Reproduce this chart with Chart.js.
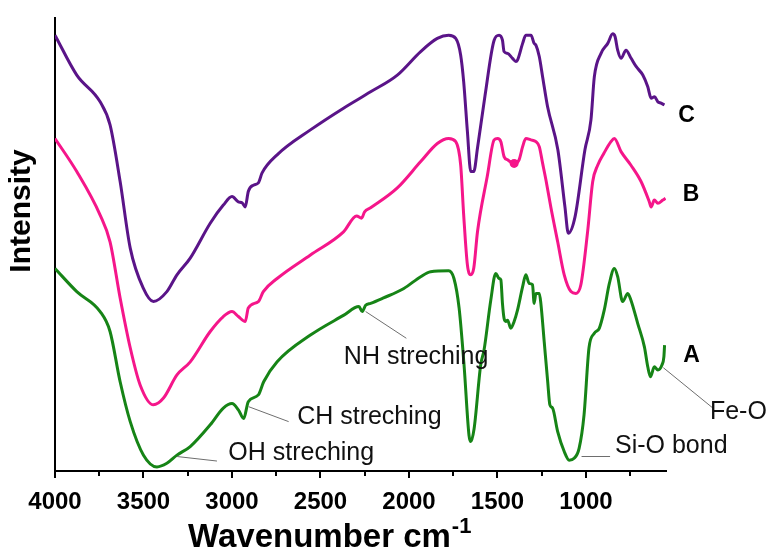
<!DOCTYPE html>
<html>
<head>
<meta charset="utf-8">
<script src="https://cdn.jsdelivr.net/npm/chart.js@4"></script>
<style>
  html, body { margin: 0; padding: 0; background: #fff; }
  #wrap { width: 768px; height: 550px; }
</style>
</head>
<body>
<div id="wrap"><canvas id="ftir" width="768" height="550"></canvas></div>
<script>
const FONT = "'Liberation Sans', Arial, Helvetica, sans-serif";

// x axis ticks (cm-1)
const majorTicks = [4000, 3500, 3000, 2500, 2000, 1500, 1000];
const minorTicks = [3750, 3250, 2750, 2250, 1750, 1250, 750];

// spectrum A (green)
const waveA = [4000, 3877, 3745, 3689, 3632, 3575, 3500, 3424, 3368, 3311,
  3236, 3123, 3049, 3000, 2964, 2934, 2908, 2851, 2821, 2745,
  2557, 2368, 2283, 2264, 2245, 2217, 2144, 2029, 1934, 1878,
  1776, 1746, 1717, 1689, 1661, 1651, 1632, 1595, 1576, 1538,
  1510, 1491, 1481, 1472, 1463, 1453, 1443, 1425, 1406, 1387,
  1358, 1340, 1321, 1302, 1293, 1283, 1264, 1255, 1236, 1217,
  1204, 1189, 1160, 1123, 1095, 1067, 1039, 1011, 983, 953,
  925, 897, 868, 840, 821, 793, 764, 746, 708, 670,
  651, 636, 614, 594, 571, 560, 556];
const intA = [44.7, 39.6, 35.2, 30.8, 19.7, 10.9, 3.5, 0.9, 1.7, 3.5,
  5.4, 10.2, 13.9, 14.9, 13.5, 11.6, 15.3, 16.8, 19.7, 24.1,
  30.0, 34.4, 36.3, 35.2, 36.6, 37.0, 38.2, 40.3, 42.9, 44.0,
  44.2, 42.5, 36.0, 23.4, 7.9, 6.5, 9.4, 23.4, 26.7, 37.7,
  43.6, 42.5, 42.2, 37.0, 33.7, 33.0, 33.3, 31.5, 33.0, 35.5,
  40.7, 43.3, 41.4, 41.1, 37.0, 39.2, 39.2, 37.0, 28.5, 20.0,
  14.6, 13.9, 8.7, 4.3, 2.4, 2.8, 5.0, 12.4, 27.2, 30.4,
  31.5, 35.5, 41.4, 44.7, 42.9, 37.4, 39.2, 37.7, 32.6, 27.4,
  23.0, 20.8, 23.0, 22.3, 23.4, 25.2, 27.8];

// spectrum B (pink)
const waveB = [4000, 3877, 3745, 3689, 3632, 3575, 3519, 3444, 3387, 3311,
  3236, 3123, 3049, 3000, 2964, 2925, 2908, 2851, 2823, 2745,
  2557, 2370, 2296, 2268, 2251, 2217, 2066, 1934, 1840, 1776,
  1736, 1708, 1691, 1670, 1651, 1634, 1613, 1558, 1519, 1500,
  1481, 1463, 1443, 1406, 1378, 1358, 1340, 1311, 1283, 1264,
  1245, 1226, 1198, 1160, 1123, 1085, 1057, 1029, 991, 962,
  934, 898, 859, 840, 802, 746, 689, 642, 632, 614,
  594, 566, 551];
const intB = [73.4, 66.1, 56.5, 50.6, 38.2, 27.2, 19.0, 14.6, 16.1, 21.2,
  24.1, 30.8, 34.1, 35.2, 34.1, 33.0, 36.0, 37.4, 39.6, 42.5,
  47.7, 52.8, 56.3, 55.8, 57.2, 58.1, 62.5, 68.3, 72.3, 73.4,
  72.7, 67.5, 56.5, 45.5, 43.3, 44.8, 52.8, 65.0, 73.1, 73.4,
  72.7, 69.4, 68.7, 67.9, 68.7, 71.6, 73.4, 73.1, 72.7, 71.6,
  67.9, 64.2, 58.1, 50.6, 43.3, 39.6, 39.2, 41.1, 52.8, 63.9,
  67.5, 70.2, 72.7, 73.4, 70.5, 67.5, 63.9, 59.4, 58.3, 59.8,
  59.1, 59.8, 60.2];
const dotWaveB = [1406];
const dotIntB = [67.9];

// spectrum C (purple)
const waveC = [4000, 3877, 3745, 3689, 3632, 3575, 3502, 3444, 3368, 3311,
  3236, 3123, 3049, 3000, 2964, 2943, 2925, 2908, 2879, 2851,
  2830, 2745, 2557, 2370, 2217, 2066, 1934, 1840, 1776, 1736,
  1708, 1691, 1670, 1651, 1634, 1613, 1570, 1519, 1491, 1472,
  1463, 1443, 1415, 1396, 1387, 1358, 1340, 1311, 1293, 1283,
  1264, 1245, 1217, 1159, 1119, 1100, 1062, 1006, 972, 953,
  915, 877, 849, 836, 821, 802, 774, 745, 717, 679,
  651, 632, 613, 594, 576, 557];
const intC = [96.2, 87.4, 81.5, 76.4, 63.9, 49.2, 40.4, 37.4, 39.6, 43.3,
  47.0, 54.7, 58.7, 60.6, 59.4, 59.2, 58.3, 61.7, 63.1, 63.6,
  65.8, 69.8, 75.3, 80.1, 83.7, 87.4, 92.6, 95.5, 96.2, 95.5,
  91.8, 85.9, 74.9, 66.1, 66.1, 71.3, 83.0, 95.1, 96.2, 95.1,
  92.6, 92.2, 91.1, 90.4, 90.7, 94.4, 96.2, 96.2, 94.4, 94.0,
  91.5, 87.0, 80.4, 70.9, 58.3, 52.5, 56.1, 70.9, 77.5, 87.0,
  92.2, 94.4, 96.5, 95.9, 92.9, 91.1, 92.9, 91.1, 89.3, 87.4,
  84.8, 82.3, 82.6, 81.5, 81.2, 80.8];

// band assignments: leader line from -> to (wavenumber, intensity), text anchor
const notes = [
  { text: "OH streching", from: [3311, 3.2], to: [3085, 2.2], at: [3021, 4.0] },
  { text: "CH streching", from: [2906, 14.2], to: [2680, 10.9], at: [2632, 12.0] },
  { text: "NH streching", from: [2245, 35.2], to: [2015, 29.3], at: [2368, 25.2] },
  { text: "Si-O bond", from: [1025, 3.2], to: [864, 3.2], at: [836, 5.4] },
  { text: "Fe-O", from: [563, 22.8], to: [280, 13.8], at: [300, 13.0] },
];
const seriesNames = ["A", "B", "C"];
const seriesNamePos = [[451, 25.5], [453, 60.9], [479, 78.4]];

const toPoints = (xs, ys) => xs.map((w, i) => ({ x: w, y: ys[i] }));

const decor = {
  id: "decor",
  afterDraw(chart) {
    const { ctx, chartArea, scales: { x, y } } = chart;
    const P = ([w, v]) => [x.getPixelForValue(w), y.getPixelForValue(v)];
    ctx.save();

    // tick marks
    ctx.strokeStyle = "#000";
    ctx.lineWidth = 2;
    const tick = (v, len) => {
      const px = Math.round(x.getPixelForValue(v));
      ctx.beginPath();
      ctx.moveTo(px, chartArea.bottom);
      ctx.lineTo(px, chartArea.bottom + len);
      ctx.stroke();
    };
    majorTicks.forEach((v) => tick(v, 7));
    minorTicks.forEach((v) => tick(v, 5));

    // leader lines + labels
    ctx.strokeStyle = "#6e6e6e";
    ctx.lineWidth = 1;
    ctx.fillStyle = "#111";
    ctx.font = `25px ${FONT}`;
    ctx.textAlign = "left";
    ctx.textBaseline = "middle";
    notes.forEach((n) => {
      const a = P(n.from), b = P(n.to), t = P(n.at);
      ctx.beginPath();
      ctx.moveTo(a[0], a[1]);
      ctx.lineTo(b[0], b[1]);
      ctx.stroke();
      ctx.fillText(n.text, t[0], t[1]);
    });

    // series letters
    ctx.font = `bold 23px ${FONT}`;
    ctx.fillStyle = "#000";
    seriesNames.forEach((s, i) => {
      const p = P(seriesNamePos[i]);
      ctx.fillText(s, p[0], p[1]);
    });

    // y title
    ctx.save();
    ctx.translate(22, 211);
    ctx.rotate(-Math.PI / 2);
    ctx.textAlign = "center";
    ctx.font = `bold 30px ${FONT}`;
    ctx.fillText("Intensity", 0, 0);
    ctx.restore();

    // x title with superscript
    ctx.textBaseline = "alphabetic";
    ctx.font = `bold 33px ${FONT}`;
    const main = "Wavenumber cm";
    ctx.fillText(main, 188, 547);
    const w = ctx.measureText(main).width;
    ctx.font = `bold 22px ${FONT}`;
    ctx.fillText("-1", 188 + w + 1, 533);

    ctx.restore();
  },
};

new Chart(document.getElementById("ftir"), {
  type: "line",
  data: {
    datasets: [
      { label: "A", data: toPoints(waveA, intA), borderColor: "#168416" },
      { label: "B", data: toPoints(waveB, intB), borderColor: "#f5168a" },
      { label: "C", data: toPoints(waveC, intC), borderColor: "#5a1488" },
      {
        label: "B marker",
        data: toPoints(dotWaveB, dotIntB),
        showLine: false,
        pointRadius: 4.5,
        pointBackgroundColor: "#f5168a",
        pointBorderWidth: 0,
      },
    ],
  },
  options: {
    responsive: false,
    animation: false,
    layout: { padding: { top: 18, right: 102, left: 0, bottom: 0 } },
    elements: {
      line: { borderWidth: 3, cubicInterpolationMode: "monotone", fill: false },
      point: { radius: 0 },
    },
    plugins: { legend: { display: false }, tooltip: { enabled: false } },
    scales: {
      x: {
        type: "linear",
        reverse: true,
        min: 548,
        max: 4000,
        afterFit: (s) => { s.height = 79; },
        afterBuildTicks: (s) => { s.ticks = majorTicks.map((v) => ({ value: v })); },
        grid: { display: false, drawTicks: false },
        border: { display: true, color: "#000", width: 2 },
        ticks: {
          autoSkip: false,
          maxRotation: 0,
          padding: 17,
          color: "#000",
          font: { family: FONT, size: 24, weight: "bold" },
          callback: (v) => String(v),
        },
      },
      y: {
        min: 0,
        max: 100,
        afterFit: (s) => { s.width = 55; },
        grid: { display: false, drawTicks: false },
        border: { display: true, color: "#000", width: 2 },
        ticks: { display: false },
      },
    },
  },
  plugins: [decor],
});
</script>
</body>
</html>
